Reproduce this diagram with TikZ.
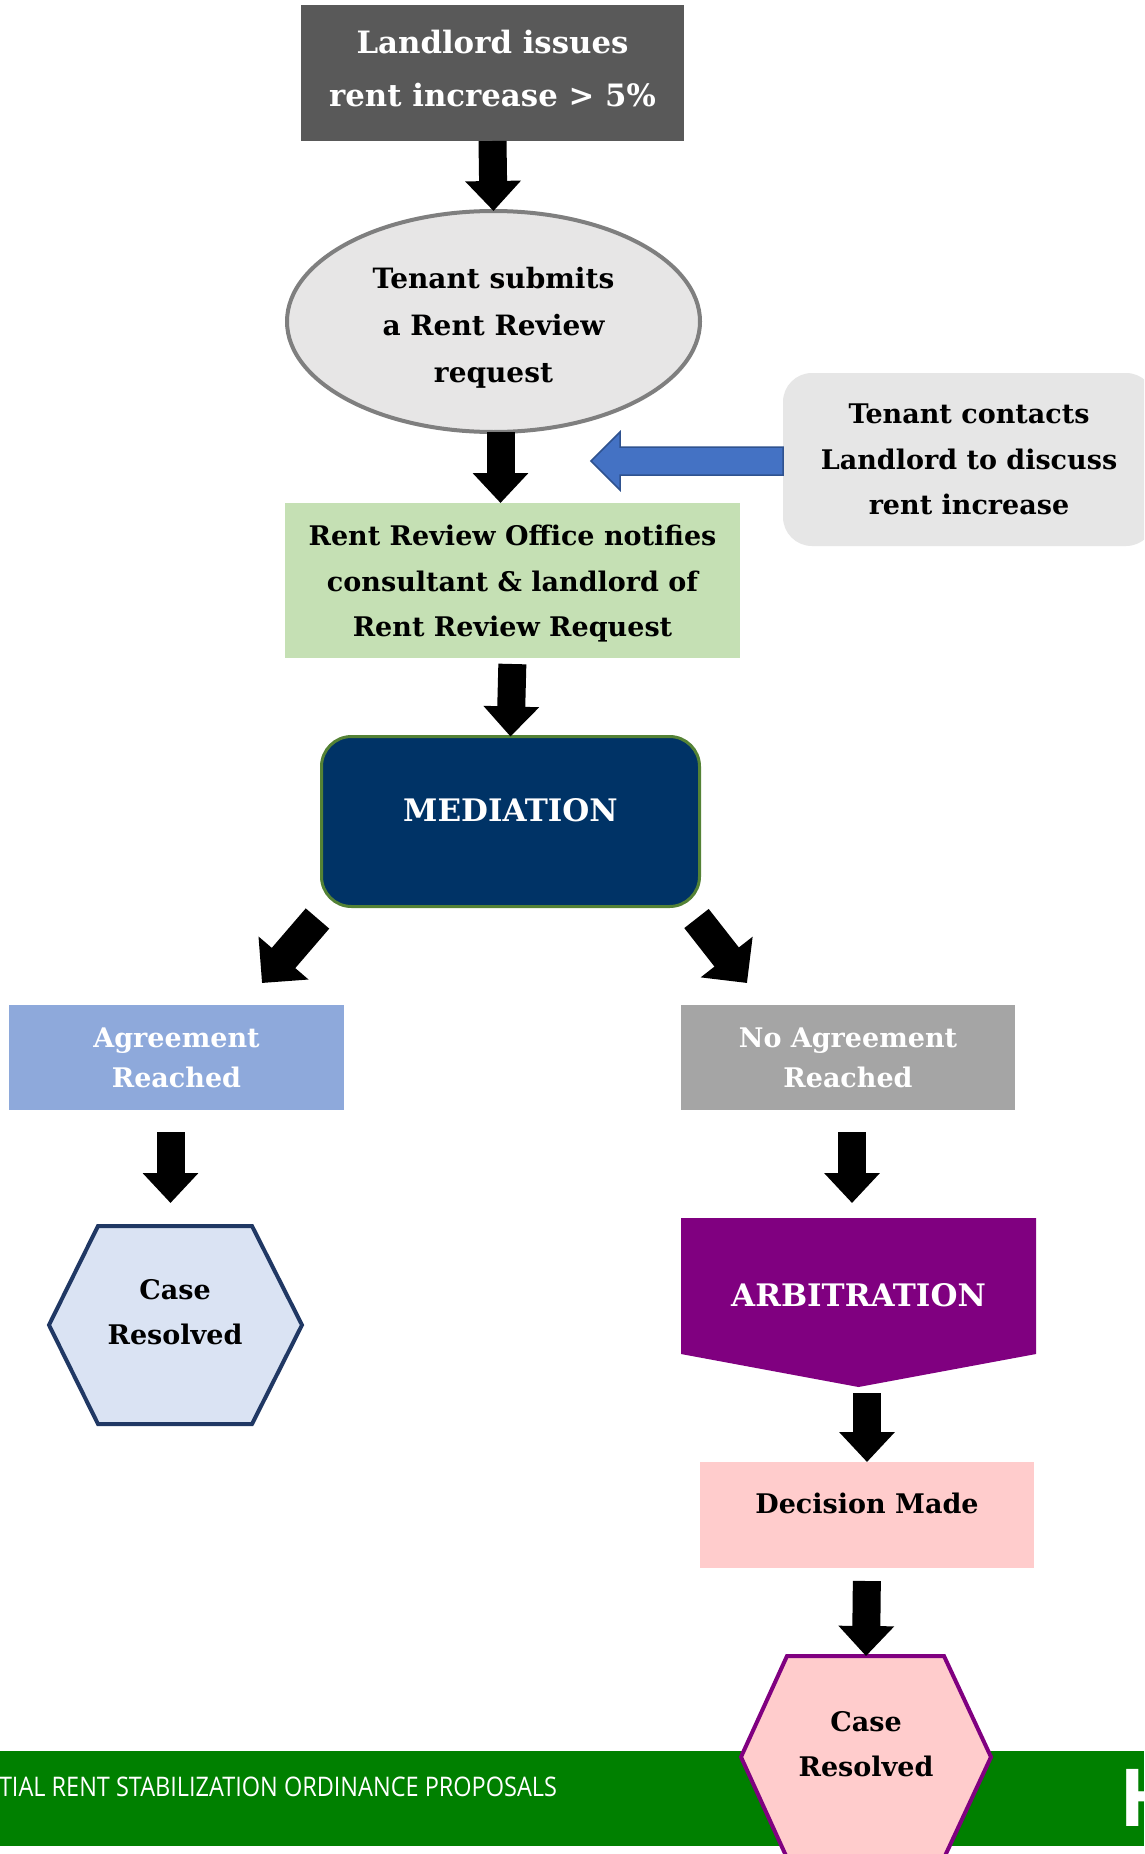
\documentclass[tikz,border=0pt]{standalone}
\usepackage{fontspec}
\setmainfont{DejaVu Serif}
\newfontfamily\barfont[FakeStretch=0.87]{Open Sans}
\newfontfamily\logofont{Open Sans}
\usetikzlibrary{positioning,shapes.geometric,arrows.meta,calc}

\definecolor{topgray}{HTML}{595959}
\definecolor{ellgray}{HTML}{E7E6E6}
\definecolor{ellline}{HTML}{7F7F7F}
\definecolor{notegreen}{HTML}{C5E0B4}
\definecolor{contactgray}{HTML}{E6E6E6}
\definecolor{arrowblue}{HTML}{4472C4}
\definecolor{arrowblueline}{HTML}{2F528F}
\definecolor{mednavy}{HTML}{003366}
\definecolor{medgreen}{HTML}{548235}
\definecolor{agreeblue}{HTML}{8EA9DB}
\definecolor{noagreegray}{HTML}{A5A5A5}
\definecolor{hexblue}{HTML}{DAE3F3}
\definecolor{hexnavy}{HTML}{203864}
\definecolor{arbpurple}{HTML}{800080}
\definecolor{decpink}{HTML}{FFCCCC}
\definecolor{bargreen}{HTML}{008000}

\begin{document}
\begin{tikzpicture}[x=1pt,y=-1pt,
    box/.style={inner sep=0pt,outer sep=0pt,align=center},
    blockarrow/.style={line width=28pt,-{Triangle[length=30pt,width=54pt]}},
    diagarrow/.style={line width=31pt,-{Triangle[length=33pt,width=64pt]}}
    ]
    % page
    \clip (0,0) rectangle (1144,1854);
    \fill[white] (0,0) rectangle (1144,1854);

    % Landlord notice
    \node[box, fill=topgray, text=white, minimum width=383pt, minimum height=136pt, text depth=10pt,
        font=\bfseries\fontsize{30.8}{53}\selectfont] (issue) at (492.5,73)
        {Landlord issues\\rent increase > 5\%};

    % Tenant request
    \node[box, ellipse, draw=ellline, line width=4pt, fill=ellgray,
        minimum width=413pt, minimum height=221pt, text height=127pt,
        font=\bfseries\fontsize{28}{47}\selectfont] (ask) at (493.5,321.5)
        {Tenant submits\\a Rent Review\\request};

    % Office notice
    \node[box, fill=notegreen, minimum width=455pt, minimum height=155pt, text height=118.5pt,
        font=\bfseries\fontsize{27}{45.5}\selectfont] (notify) at (512.5,580.5)
        {Rent Review Office notifies\\consultant \& landlord of\\Rent Review Request};

    % Tenant contacts landlord
    \node[box, rounded corners=29pt, fill=contactgray, minimum width=372pt, minimum height=173pt,
        font=\bfseries\fontsize{27}{45.5}\selectfont] (contact) at (969,459.5)
        {Tenant contacts\\Landlord to discuss\\rent increase};

    % Mediation
    \node[box, rounded corners=30pt, draw=medgreen, line width=3pt, fill=mednavy, text=white,
        minimum width=378pt, minimum height=170pt, text depth=23pt,
        font=\bfseries\fontsize{31}{37}\selectfont] (med) at (510.5,821.5) {MEDIATION};

    % Outcomes
    \node[box, fill=agreeblue, text=white, minimum width=335pt, minimum height=105pt,
        font=\bfseries\fontsize{27}{40}\selectfont] (agree) at (176.5,1057.5)
        {Agreement\\Reached};
    \node[box, fill=noagreegray, text=white, minimum width=334pt, minimum height=105pt,
        font=\bfseries\fontsize{27}{40}\selectfont] (noagree) at (848,1057.5)
        {No Agreement\\Reached};

    % Case resolved after agreement
    \draw[hexnavy, fill=hexblue, line width=4pt]
        (49,1325) -- (98,1226) -- (252,1226) -- (302,1325) -- (252,1424) -- (98,1424) -- cycle;
    \node[box, minimum height=173pt, font=\bfseries\fontsize{27}{45}\selectfont]
        (done1) at (175,1312.5) {Case\\Resolved};

    % Arbitration
    \fill[arbpurple] (681,1218) -- (1036,1218) -- (1036,1354) -- (858.5,1387) -- (681,1354) -- cycle;
    \node[box, text=white, minimum width=355pt, minimum height=169pt, text depth=15pt,
        font=\bfseries\fontsize{31}{37}\selectfont] (arb) at (858.5,1302.5) {ARBITRATION};

    % Decision
    \node[box, fill=decpink, minimum width=334pt, minimum height=106pt, text depth=24pt,
        font=\bfseries\fontsize{27}{37}\selectfont] (decide) at (867,1515) {Decision Made};

    % Footer bar
    \fill[bargreen] (0,1751) rectangle (1144,1846);
    \node[box, anchor=west, text=white, font=\barfont\fontsize{27}{32}\selectfont]
        (bartext) at (-1,1787) {TIAL RENT STABILIZATION ORDINANCE PROPOSALS};
    \node[box, anchor=west, text=white, font=\logofont\bfseries\fontsize{80}{90}\selectfont]
        (barlogo) at (1119,1798) {H};

    % Case resolved after decision
    \draw[arbpurple, fill=decpink, line width=4pt]
        (741,1757) -- (787,1656) -- (944,1656) -- (991,1757) -- (944,1858) -- (787,1858) -- cycle;
    \node[box, minimum height=177pt, font=\bfseries\fontsize{27}{45}\selectfont]
        (done2) at (866,1744.5) {Case\\Resolved};

    % Arrows
    \draw[blockarrow] (issue.south) -- (ask.north);
    \draw[blockarrow] ([xshift=7pt]ask.south) -- ([xshift=7pt]ask.south |- notify.north);
    \draw[blockarrow, shorten <=6pt] (notify.south) -- (med.north);

    \coordinate (medl) at ([shift={(-4,12)}]med.south west);
    \coordinate (agreel) at ([shift={(-82,-22)}]agree.north east);
    \coordinate (medr) at ([shift={(-3,12)}]med.south east);
    \coordinate (noagreer) at ([shift={(66,-22)}]noagree.north west);
    \draw[diagarrow] (medl) -- (agreel);
    \draw[diagarrow] (medr) -- (noagreer);

    \draw[blockarrow, shorten <=22pt, shorten >=23pt] ([xshift=-6pt]agree.south) -- ([xshift=-6pt]agree.south |- done1.north);
    \draw[blockarrow, shorten <=22pt, shorten >=15pt] ([xshift=4pt]noagree.south) -- ([xshift=4pt]noagree.south |- arb.north);
    \draw[blockarrow, shorten <=6pt] (decide.north |- arb.south) -- (decide.north);
    \draw[blockarrow, shorten <=13pt] (decide.south) -- (done2.north);

    % Blue arrow from contact
    \coordinate (bluetip) at (591,461);
    \draw[arrowblueline, fill=arrowblue, line width=1.5pt]
        (bluetip) -- ++(29,-29) -- ++(0,15)
        -- ($(contact.west |- bluetip)+(0,-14)$) -- ($(contact.west |- bluetip)+(0,14)$)
        -- ($(bluetip)+(29,14)$) -- ++(0,15) -- cycle;
\end{tikzpicture}
\end{document}
